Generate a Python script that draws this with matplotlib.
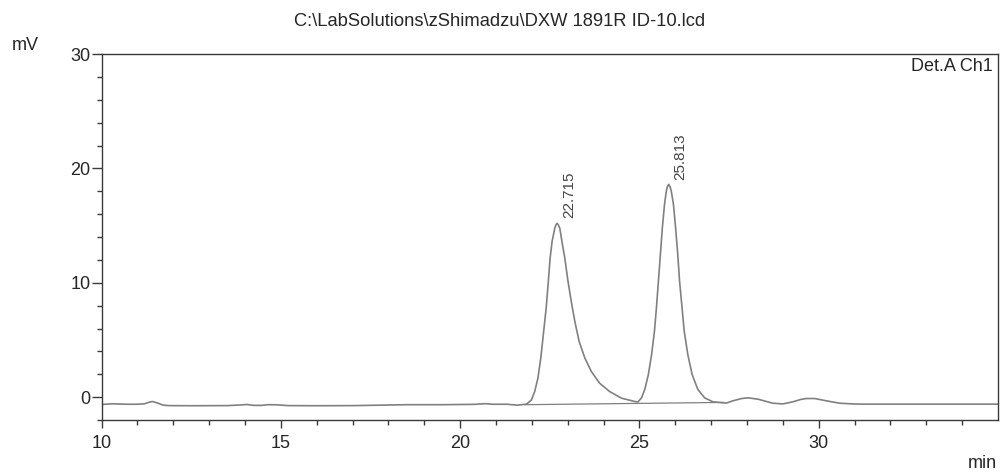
"""Shimadzu LabSolutions chromatogram (Det.A Ch1) redrawn from the printout."""

import matplotlib
matplotlib.use("Agg")
import matplotlib.pyplot as plt
from matplotlib.ticker import FixedLocator, MultipleLocator

plt.rcParams["font.family"] = ["Liberation Sans", "DejaVu Sans"]

# Signal trace (min, mV)
time_min = [
    10.00, 10.30, 10.70, 11.00, 11.20, 11.32, 11.42, 11.55, 11.70, 11.85,
    12.50, 13.50, 13.90, 14.05, 14.25, 14.45, 14.65, 14.90, 15.20, 16.00,
    17.00, 17.80, 18.50, 19.50, 20.40, 20.70, 20.90, 21.30, 21.60, 21.85,
    21.99, 22.08, 22.17, 22.25, 22.32, 22.40, 22.46, 22.51, 22.565, 22.64,
    22.67, 22.705, 22.74, 22.78, 22.84, 22.92, 23.01, 23.10, 23.20, 23.32,
    23.48, 23.66, 23.89, 24.17, 24.50, 24.87, 24.96, 25.06, 25.15, 25.25,
    25.34, 25.42, 25.475, 25.53, 25.585, 25.64, 25.70, 25.75, 25.78, 25.817,
    25.855, 25.89, 25.95, 26.01, 26.07, 26.12, 26.19, 26.25, 26.35, 26.47,
    26.63, 26.82, 27.05, 27.42, 27.61, 27.85, 28.03, 28.31, 28.72, 29.00,
    29.28, 29.50, 29.65, 29.89, 30.21, 30.58, 30.95, 31.20, 33.00, 35.00,
]
signal_mv = [
    -0.64, -0.58, -0.62, -0.62, -0.58, -0.45, -0.38, -0.50, -0.68, -0.74,
    -0.75, -0.74, -0.68, -0.64, -0.72, -0.72, -0.66, -0.67, -0.74, -0.75,
    -0.74, -0.70, -0.66, -0.66, -0.63, -0.57, -0.62, -0.62, -0.70, -0.61,
    -0.24, 0.49, 1.66, 3.41, 5.45, 7.78, 10.10, 12.15, 13.60, 14.77,
    15.05, 15.20, 15.05, 14.77, 13.60, 12.15, 10.10, 8.36, 6.61, 4.86,
    3.41, 2.24, 1.22, 0.49, -0.09, -0.38, -0.42, -0.06, 0.67, 1.98,
    3.72, 5.77, 7.81, 10.14, 12.47, 14.80, 16.84, 18.00, 18.40, 18.60,
    18.40, 18.00, 16.84, 14.80, 12.47, 10.14, 7.81, 5.77, 3.72, 1.98,
    0.67, -0.06, -0.41, -0.52, -0.32, -0.12, -0.06, -0.18, -0.53, -0.59,
    -0.41, -0.20, -0.12, -0.12, -0.32, -0.53, -0.59, -0.61, -0.61, -0.61,
]

# Integration baseline drawn under the two peaks
baseline_t = [21.80, 27.35]
baseline_mv = [-0.66, -0.46]

# Peak labels (retention time, apex height)
peak_times = [22.715, 25.813]
peak_heights = [15.20, 18.60]

x_major = [10, 15, 20, 25, 30]
x_minor = list(range(10, 35))

LINE = "#808080"
AXIS = "#3a3a3a"
TEXT = "#262626"

fig = plt.figure(figsize=(10, 4.73), dpi=100)
ax = fig.add_axes([0.1015, 0.112, 0.8965, 0.7738])

ax.plot(time_min, signal_mv, color=LINE, lw=1.2, solid_joinstyle="round")
ax.plot(baseline_t, baseline_mv, color=LINE, lw=0.9)

for t, h in zip(peak_times, peak_heights):
    ax.annotate(f"{t:.3f}", xy=(t, h), xytext=(8.5, 3.5),
                textcoords="offset points", rotation=90,
                ha="center", va="bottom", fontsize=11, color="#444444")

ax.set_xlim(10, 35)
ax.set_ylim(-2, 30)
ax.xaxis.set_major_locator(FixedLocator(x_major))
ax.xaxis.set_minor_locator(FixedLocator(x_minor))
ax.yaxis.set_major_locator(MultipleLocator(10))
ax.yaxis.set_minor_locator(MultipleLocator(2))
ax.tick_params(axis="both", which="major", direction="out", colors=AXIS,
               labelcolor=TEXT, labelsize=13, width=1.0)
ax.tick_params(axis="x", which="major", length=6, pad=5)
ax.tick_params(axis="y", which="major", length=7.5, pad=0.5)
ax.tick_params(axis="both", which="minor", direction="out", colors=AXIS,
               length=3.5, width=1.0)
for sp in ax.spines.values():
    sp.set_color(AXIS)
    sp.set_linewidth(1.0)

ax.text(0.9944, 0.967, "Det.A Ch1", transform=ax.transAxes,
        ha="right", va="center", fontsize=13, color=TEXT)

fig.text(0.5, 1 - 22 / 473, r"C:\LabSolutions\zShimadzu\DXW 1891R ID-10.lcd",
         ha="center", va="center", fontsize=13.2, color=TEXT)
fig.text(0.025, 1 - 45 / 473, "mV", ha="center", va="center",
         fontsize=13, color=TEXT)
fig.text(0.997, 1 - 463 / 473, "min", ha="right", va="center",
         fontsize=13, color=TEXT)

fig.savefig("out.png", dpi=100, facecolor="white")
plt.close(fig)
